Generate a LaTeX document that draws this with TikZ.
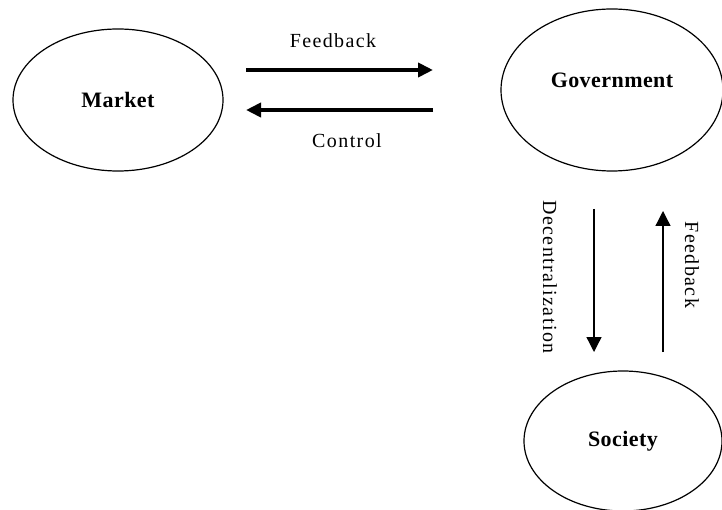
\documentclass[tikz,border=0pt]{standalone}
\usepackage{fontspec}
\setmainfont{Liberation Serif}
\newfontfamily\lblfont[LetterSpace=7]{Liberation Serif}
\newfontfamily\ovalfont[LetterSpace=2]{Liberation Serif}
\usetikzlibrary{shapes.geometric, arrows.meta}

\begin{document}
\begin{tikzpicture}[
    x=1pt, y=-1pt,
    oval/.style={draw, ellipse, line width=1.2pt, inner sep=0pt, font=\ovalfont\bfseries\fontsize{22}{24}\selectfont},
    ovaltext/.style={font=\ovalfont\bfseries\fontsize{22}{24}\selectfont},
    lbl/.style={font=\lblfont\fontsize{20}{22}\selectfont},
    bigarrow/.style={-{Triangle[length=15pt, width=14pt]}, line width=4.5pt},
    thinarrow/.style={-{Triangle[length=15pt, width=15pt]}, line width=1.3pt}
]
    \clip (0,0) rectangle (722,510);

    % Actors
    \node[oval, minimum width=210pt, minimum height=142pt] (market) at (118,100) {Market};
    \node[oval, minimum width=222pt, minimum height=162pt,
          label={[ovaltext, yshift=10pt]center:Government}] (govt) at (612,90) {};
    \node[oval, minimum width=198pt, minimum height=140pt] (society) at (623,441) {Society};

    % Market <-> Government
    \coordinate (fb_l) at (246,70);
    \coordinate (fb_r) at (433,70);
    \coordinate (ctrl_r) at (433,110);
    \coordinate (ctrl_l) at (246,110);
    \draw[bigarrow] (fb_l) -- (fb_r);
    \draw[bigarrow] (ctrl_r) -- (ctrl_l);
    \node[lbl] (fb_lbl) at (333,41) {Feedback};
    \node[lbl] (ctrl_lbl) at (347,141) {Control};

    % Government <-> Society
    \coordinate (dec_t) at (594,209);
    \coordinate (dec_b) at (594,352);
    \coordinate (sfb_b) at (663,352);
    \coordinate (sfb_t) at (663,211);
    \draw[thinarrow] (dec_t) -- (dec_b);
    \draw[thinarrow] (sfb_b) -- (sfb_t);
    \node[lbl, rotate=-90] (dec_lbl) at (550,277) {Decentralization};
    \node[lbl, rotate=-90] (sfb_lbl) at (692,265) {Feedback};

\end{tikzpicture}
\end{document}
